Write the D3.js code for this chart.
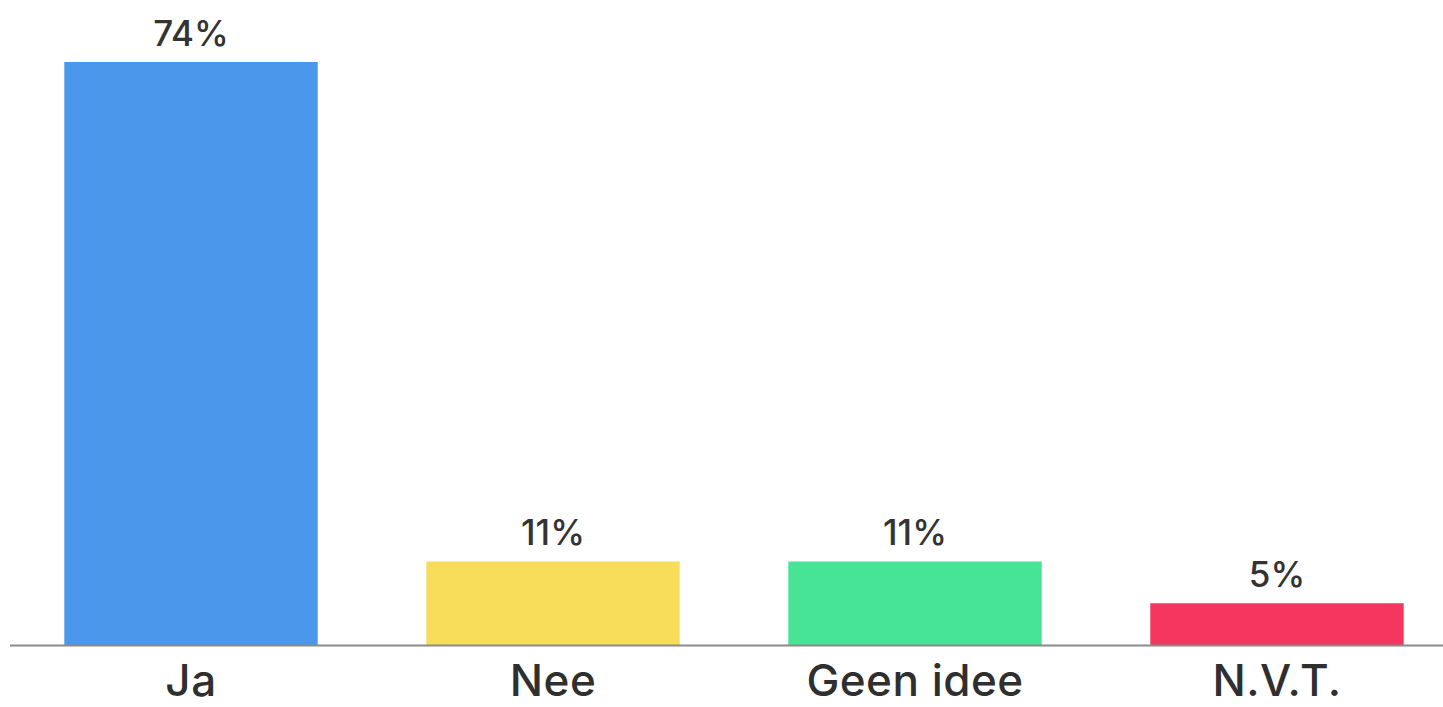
<!DOCTYPE html>
<html>
<head>
<meta charset="utf-8">
<script src="https://cdn.jsdelivr.net/npm/d3@7"></script>
<style>
  html, body { margin: 0; padding: 0; background: #fff; }
  svg { display: block; }
</style>
</head>
<body>
<svg id="chart" width="1443" height="707"></svg>
<script>
const categories = ["Ja", "Nee", "Geen idee", "N.V.T."];
const values = [74, 10.6, 10.6, 5.3];
const colors = ["#4A97EC", "#F7DC5A", "#48E495", "#F5365F"];

const svg = d3.select("#chart");
const W = 1443, H = 707;
const baseY = 645;

const x = d3.scaleBand()
  .domain(categories)
  .range([10, 1458])
  .paddingInner(0.3)
  .paddingOuter(0.15);

const y = d3.scaleLinear()
  .domain([0, 74])
  .range([baseY, 62]);

const fmt = v => d3.format(".0f")(v) + "%";

svg.selectAll("rect.bar")
  .data(categories)
  .enter().append("rect")
  .attr("class", "bar")
  .attr("x", d => x(d))
  .attr("width", x.bandwidth())
  .attr("y", (d, i) => y(values[i]))
  .attr("height", (d, i) => baseY - y(values[i]))
  .attr("fill", (d, i) => colors[i]);

svg.append("line")
  .attr("x1", 10).attr("x2", W)
  .attr("y1", baseY + 0.5).attr("y2", baseY + 0.5)
  .attr("stroke", "#8a8a8a")
  .attr("stroke-width", 2);

svg.selectAll("text.val")
  .data(categories)
  .enter().append("text")
  .attr("class", "val")
  .attr("x", d => x(d) + x.bandwidth() / 2)
  .attr("y", (d, i) => y(values[i]) - 16)
  .attr("text-anchor", "middle")
  .attr("font-family", "Inter, sans-serif")
  .attr("font-weight", 500)
  .attr("font-size", 35)
  .attr("fill", "#333")
  .text((d, i) => fmt(values[i]));

const xAxis = d3.axisBottom(x).tickSize(0).tickPadding(0);
const g = svg.append("g")
  .attr("transform", `translate(0,${baseY})`)
  .call(xAxis);
g.select(".domain").remove();
g.selectAll("text")
  .attr("dy", null)
  .attr("y", 51)
  .attr("font-family", "Inter, sans-serif")
  .attr("font-weight", 500)
  .attr("font-size", 44)
  .attr("letter-spacing", 0.5)
  .attr("fill", "#2f2f2f");
</script>
</body>
</html>
